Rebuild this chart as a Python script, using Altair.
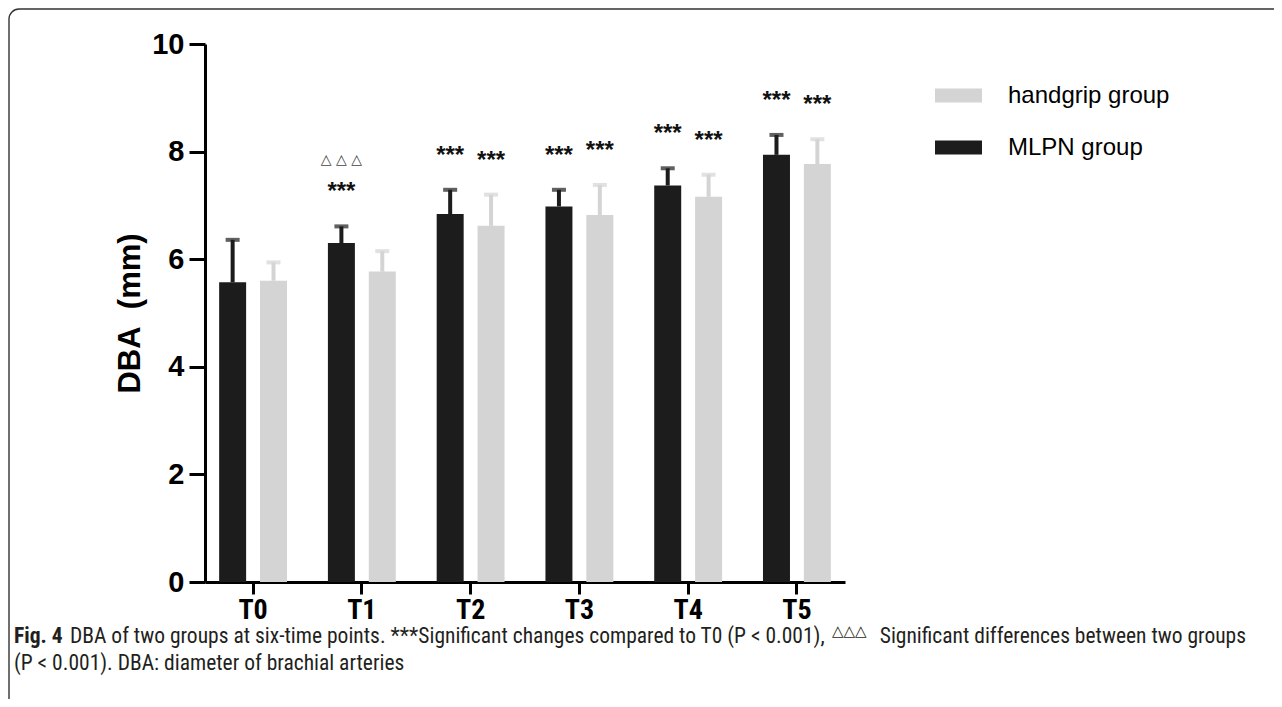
import altair as alt
import pandas as pd

times = ["T0", "T1", "T2", "T3", "T4", "T5"]
groups = ["handgrip group", "MLPN group"]

mlpn_mean = [5.57, 6.30, 6.84, 6.98, 7.37, 7.94]
mlpn_sd = [0.79, 0.31, 0.45, 0.31, 0.32, 0.37]
hand_mean = [5.60, 5.77, 6.62, 6.82, 7.16, 7.77]
hand_sd = [0.34, 0.38, 0.58, 0.56, 0.41, 0.46]

mlpn_sig = ["", "***", "***", "***", "***", "***"]
hand_sig = ["", "", "***", "***", "***", "***"]
mlpn_diff = ["", "△ △ △", "", "", "", ""]
hand_diff = ["", "", "", "", "", ""]

rows = []
for i, t in enumerate(times):
    rows.append(dict(time=t, group="MLPN group", mean=mlpn_mean[i], top=mlpn_mean[i] + mlpn_sd[i],
                     sig=mlpn_sig[i], diff=mlpn_diff[i]))
    rows.append(dict(time=t, group="handgrip group", mean=hand_mean[i], top=hand_mean[i] + hand_sd[i],
                     sig=hand_sig[i], diff=hand_diff[i]))
df = pd.DataFrame(rows)

AX_FONT = "Liberation Sans"
COND_FONT = "Roboto Condensed, Liberation Sans"
CAP_FONT = "Roboto Condensed, Liberation Sans"

offset_sort = ["MLPN group", "handgrip group"]

x_enc = alt.X("time:N", sort=times, title=None,
              scale=alt.Scale(paddingInner=0.376, paddingOuter=0.13),
              axis=alt.Axis(labelFont=COND_FONT, labelFontSize=28,
                            labelFontWeight="bold", labelColor="#000", labelAngle=0,
                            labelPadding=2, tickSize=12, tickWidth=3, tickColor="#000",
                            domainColor="#000", domainWidth=3))
xo_enc = alt.XOffset("group:N", sort=offset_sort,
                     scale=alt.Scale(paddingInner=0.34, paddingOuter=0))
color_scale = alt.Scale(domain=groups, range=["#d4d4d4", "#1c1c1c"])

y_enc = alt.Y("mean:Q", title="DBA\u00a0\u00a0(mm)",
              scale=alt.Scale(domain=[0, 10], nice=False, zero=True),
              axis=alt.Axis(values=[0, 2, 4, 6, 8, 10], grid=False, labelFont=AX_FONT,
                            labelFontSize=29, labelFontWeight="bold", labelColor="#000",
                            labelPadding=5, tickSize=16, tickWidth=3, tickColor="#000",
                            domainColor="#000", domainWidth=3,
                            titleFont=AX_FONT, titleFontSize=31, titleFontWeight="bold",
                            titleColor="#000", titlePadding=5))

base = alt.Chart(df)

bars = base.mark_bar(strokeWidth=0).encode(
    x=x_enc, xOffset=xo_enc, y=y_enc,
    color=alt.Color("group:N", scale=color_scale, title=None,
                    legend=alt.Legend(orient="none", legendX=730, legendY=28,
                                      symbolType="M-1,-0.3L1,-0.3L1,0.3L-1,0.3Z",
                                      symbolSize=2209, symbolStrokeWidth=0, symbolOpacity=1,
                                      labelFont=AX_FONT, labelFontSize=24, labelColor="#000",
                                      labelOffset=26, labelLimit=0, rowPadding=16, padding=0)),
)

xs = alt.X("time:N", sort=times)
xos = alt.XOffset("group:N", sort=offset_sort)

err = base.mark_rule(strokeWidth=4).encode(
    x=xs, xOffset=xos, y="mean:Q", y2="top:Q",
    color=alt.Color("group:N", scale=color_scale, legend=None),
)
cap = base.mark_tick(thickness=4, size=14).encode(
    x=xs, xOffset=xos, y="top:Q",
    color=alt.Color("group:N", scale=color_scale, legend=None),
)
sig = base.mark_text(dy=-34, fontSize=24, fontWeight="bold", font=AX_FONT, color="#111",
                     baseline="middle").encode(
    x=xs, xOffset=xos, y="top:Q", text="sig:N",
)
diff = base.mark_text(dy=-66, fontSize=14, font="DejaVu Sans", color="#444",
                      baseline="middle").encode(
    x=xs, xOffset=xos, y="top:Q", text="diff:N",
)

dummy = pd.DataFrame({"a": [0]})
border = alt.Chart(dummy).mark_rect(fill=None, stroke="#333", strokeWidth=1.4, cornerRadius=10).encode(
    x=alt.value(-196), x2=alt.value(1090), y=alt.value(-35), y2=alt.value(700))

cap_texts = [
    ("Fig. 4", -191, 593, "bold", 21.5, "left"),
    ("DBA of two groups at six-time points. ***Significant changes compared to T0 (P < 0.001),", -135, 593, "normal", 21.5, "left"),
    ("Significant differences between two groups", 1041, 593, "normal", 21.5, "right"),
    ("(P < 0.001). DBA: diameter of brachial arteries", -191, 620, "normal", 21.5, "left"),
]
caption_layers = []
for txt, cx, cy, fw, fs, al in cap_texts:
    caption_layers.append(alt.Chart(dummy).mark_text(font=CAP_FONT, fontSize=fs, fontWeight=fw, align=al,
                                                     baseline="middle", color="#231f20").encode(
        x=alt.value(cx), y=alt.value(cy), text=alt.value(txt)))
caption_layers.append(alt.Chart(dummy).mark_text(font="DejaVu Sans", fontSize=15, align="left",
                                                 baseline="middle", color="#231f20").encode(
    x=alt.value(627), y=alt.value(587), text=alt.value("△△△")))

chart = alt.layer(bars, err, cap, sig, diff, border, *caption_layers).properties(
    width=640, height=538,
    padding={"left": 197, "top": 36, "right": 429, "bottom": 117},
    autosize=alt.AutoSizeParams(type="none"),
).configure(background="white", view=alt.ViewConfig(stroke=None))

chart.save("out.html", embed_options={"renderer": "svg", "actions": False})
